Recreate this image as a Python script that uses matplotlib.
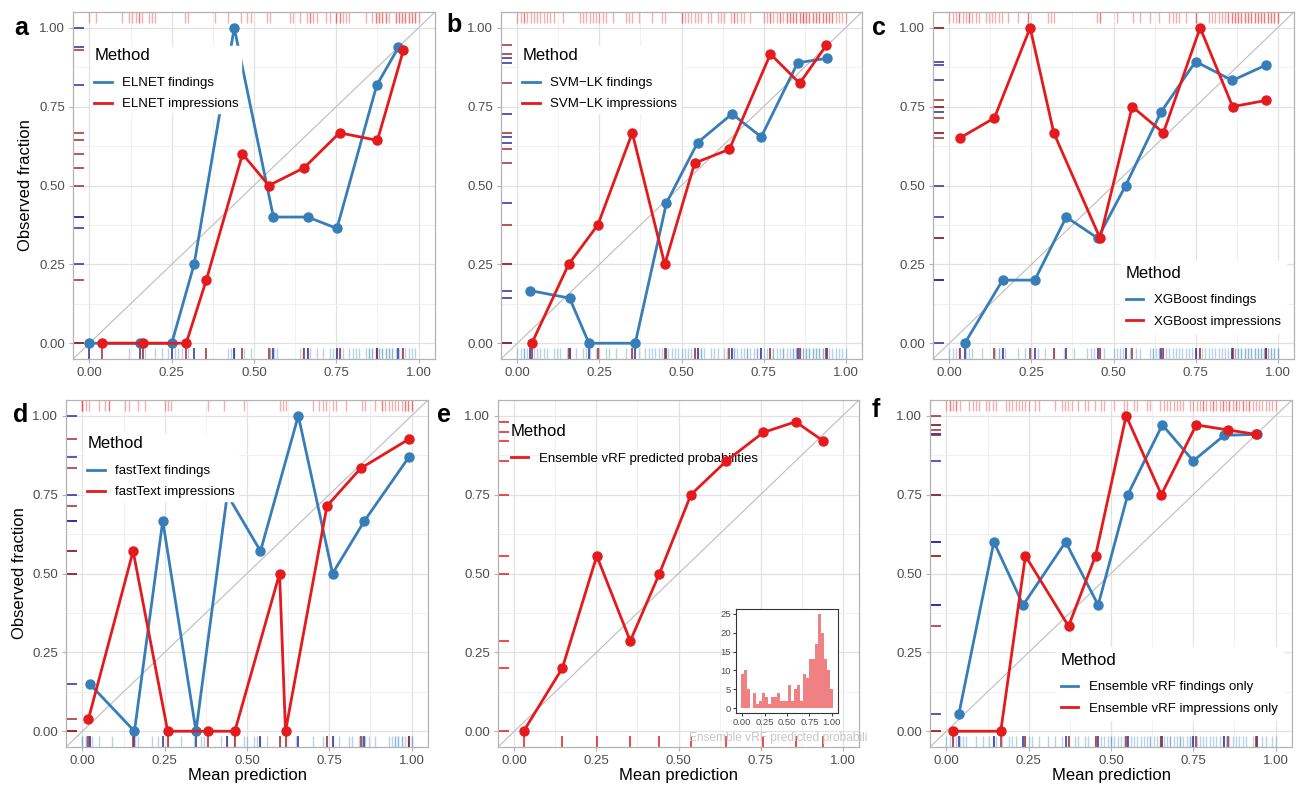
import numpy as np
import matplotlib
matplotlib.use('Agg')
import matplotlib.pyplot as plt
from matplotlib.lines import Line2D

plt.rcParams['font.family'] = ['Liberation Sans', 'DejaVu Sans']

BLUE = '#377EB8'
RED = '#E41A1C'
NAVY = '#2b2b9e'
DRED = '#9e2b2b'

# a: ELNET
elnet_find_x = [0.00, 0.154, 0.25, 0.318, 0.44, 0.559, 0.663, 0.752, 0.873, 0.939]
elnet_find_y = [0.00, 0.00, 0.00, 0.25, 1.00, 0.40, 0.40, 0.364, 0.818, 0.938]
elnet_imp_x = [0.038, 0.162, 0.294, 0.355, 0.465, 0.545, 0.652, 0.76, 0.875, 0.954]
elnet_imp_y = [0.00, 0.00, 0.00, 0.20, 0.60, 0.50, 0.556, 0.667, 0.643, 0.929]
elnet_find_rug = [0.12, 0.16, 0.17, 0.20, 0.22, 0.24, 0.26, 0.27, 0.28, 0.30, 0.42, 0.43, 0.44,
                  0.44, 0.47, 0.49, 0.55, 0.55, 0.56, 0.57, 0.64, 0.65, 0.65, 0.66, 0.67, 0.69,
                  0.71, 0.73, 0.74, 0.75, 0.76, 0.77, 0.79, 0.80, 0.81, 0.82, 0.84, 0.85, 0.85,
                  0.86, 0.86, 0.87, 0.87, 0.88, 0.88, 0.89, 0.89, 0.90, 0.90, 0.91, 0.91, 0.92,
                  0.92, 0.93, 0.94, 0.95, 0.96, 0.97, 0.98, 0.99]
elnet_imp_rug = [0.00, 0.02, 0.10, 0.12, 0.13, 0.14, 0.15, 0.15, 0.16, 0.18, 0.19, 0.20, 0.29,
                 0.30, 0.38, 0.42, 0.46, 0.48, 0.49, 0.54, 0.55, 0.61, 0.62, 0.64, 0.66, 0.67,
                 0.67, 0.68, 0.69, 0.72, 0.73, 0.75, 0.75, 0.76, 0.76, 0.77, 0.78, 0.79, 0.84,
                 0.86, 0.87, 0.87, 0.88, 0.88, 0.89, 0.89, 0.90, 0.90, 0.91, 0.93, 0.93, 0.94,
                 0.94, 0.95, 0.95, 0.96, 0.96, 0.97, 0.97, 0.98, 0.98, 0.99, 0.99, 1.00]

# b: SVM-LK
svm_find_x = [0.038, 0.159, 0.218, 0.359, 0.454, 0.549, 0.654, 0.743, 0.854, 0.942]
svm_find_y = [0.167, 0.143, 0.0, 0.0, 0.444, 0.636, 0.727, 0.654, 0.889, 0.903]
svm_imp_x = [0.044, 0.156, 0.245, 0.35, 0.449, 0.54, 0.646, 0.771, 0.86, 0.941]
svm_imp_y = [0.0, 0.25, 0.375, 0.667, 0.25, 0.571, 0.615, 0.917, 0.824, 0.944]
svm_find_rug = [0.00, 0.01, 0.02, 0.02, 0.03, 0.04, 0.05, 0.06, 0.07, 0.08, 0.09, 0.11, 0.12,
                0.13, 0.15, 0.16, 0.18, 0.20, 0.21, 0.22, 0.24, 0.25, 0.27, 0.28, 0.30, 0.33,
                0.35, 0.37, 0.39, 0.40, 0.41, 0.42, 0.43, 0.44, 0.46, 0.47, 0.48, 0.49, 0.50,
                0.51, 0.52, 0.53, 0.54, 0.55, 0.56, 0.56, 0.57, 0.59, 0.60, 0.61, 0.63, 0.64,
                0.65, 0.66, 0.66, 0.67, 0.68, 0.69, 0.70, 0.70, 0.71, 0.72, 0.73, 0.73, 0.74,
                0.75, 0.76, 0.77, 0.78, 0.78, 0.79, 0.80, 0.81, 0.81, 0.82, 0.83, 0.84, 0.84,
                0.85, 0.85, 0.86, 0.86, 0.87, 0.87, 0.88, 0.88, 0.89, 0.89, 0.90, 0.90, 0.91,
                0.91, 0.92, 0.92, 0.93, 0.93, 0.94, 0.95, 0.96, 0.97, 0.98, 0.99, 1.00]
svm_imp_rug = [0.00, 0.01, 0.02, 0.02, 0.03, 0.04, 0.05, 0.06, 0.07, 0.08, 0.09, 0.10, 0.11,
               0.14, 0.19, 0.20, 0.21, 0.22, 0.23, 0.24, 0.25, 0.26, 0.27, 0.29, 0.33, 0.34,
               0.35, 0.37, 0.41, 0.44, 0.45, 0.50, 0.50, 0.51, 0.52, 0.53, 0.54, 0.55, 0.56,
               0.58, 0.59, 0.61, 0.62, 0.63, 0.65, 0.66, 0.66, 0.67, 0.68, 0.69, 0.71, 0.75,
               0.76, 0.77, 0.77, 0.78, 0.79, 0.80, 0.80, 0.81, 0.82, 0.82, 0.83, 0.83, 0.84,
               0.84, 0.85, 0.85, 0.86, 0.86, 0.87, 0.87, 0.87, 0.88, 0.88, 0.89, 0.89, 0.90,
               0.90, 0.91, 0.91, 0.92, 0.92, 0.93, 0.93, 0.94, 0.94, 0.95, 0.95, 0.96, 0.96,
               0.97, 0.98, 0.99, 1.00]

# c: XGBoost
xgb_find_x = [0.047, 0.162, 0.26, 0.356, 0.452, 0.537, 0.645, 0.75, 0.862, 0.965]
xgb_find_y = [0.0, 0.2, 0.2, 0.4, 0.333, 0.5, 0.733, 0.893, 0.833, 0.882]
xgb_imp_x = [0.031, 0.137, 0.246, 0.318, 0.459, 0.557, 0.652, 0.764, 0.863, 0.966]
xgb_imp_y = [0.65, 0.714, 1.0, 0.667, 0.333, 0.75, 0.667, 1.0, 0.75, 0.77]
xgb_find_rug = [0.00, 0.01, 0.02, 0.03, 0.03, 0.05, 0.06, 0.07, 0.10, 0.14, 0.15, 0.15, 0.16,
                0.17, 0.21, 0.23, 0.25, 0.27, 0.29, 0.32, 0.35, 0.38, 0.42, 0.43, 0.44, 0.46,
                0.47, 0.50, 0.51, 0.52, 0.53, 0.55, 0.57, 0.58, 0.61, 0.62, 0.62, 0.63, 0.64,
                0.64, 0.65, 0.66, 0.67, 0.68, 0.69, 0.70, 0.71, 0.72, 0.73, 0.74, 0.75, 0.76,
                0.77, 0.78, 0.79, 0.80, 0.81, 0.82, 0.83, 0.84, 0.85, 0.86, 0.86, 0.87, 0.87,
                0.88, 0.88, 0.89, 0.89, 0.90, 0.90, 0.91, 0.91, 0.92, 0.92, 0.93, 0.93, 0.94,
                0.94, 0.95, 0.95, 0.96, 0.96, 0.97, 0.97, 0.98, 0.98, 0.99, 0.99, 1.00, 1.00]
xgb_imp_rug = [0.00, 0.01, 0.02, 0.03, 0.03, 0.04, 0.05, 0.06, 0.06, 0.07, 0.08, 0.09, 0.11,
               0.12, 0.13, 0.14, 0.15, 0.16, 0.18, 0.21, 0.24, 0.24, 0.30, 0.31, 0.32, 0.45,
               0.46, 0.46, 0.51, 0.56, 0.58, 0.61, 0.64, 0.67, 0.68, 0.69, 0.70, 0.72, 0.75,
               0.75, 0.79, 0.80, 0.81, 0.82, 0.83, 0.84, 0.85, 0.85, 0.86, 0.86, 0.87, 0.87,
               0.88, 0.88, 0.89, 0.89, 0.90, 0.90, 0.91, 0.91, 0.92, 0.92, 0.93, 0.93, 0.94,
               0.94, 0.95, 0.95, 0.96, 0.96, 0.97, 0.97, 0.98, 0.98, 0.99, 0.99, 1.00, 1.00]

# d: fastText
ft_find_x = [0.022, 0.158, 0.244, 0.345, 0.44, 0.541, 0.656, 0.76, 0.857, 0.992]
ft_find_y = [0.15, 0.0, 0.667, 0.0, 0.75, 0.571, 1.0, 0.5, 0.667, 0.869]
ft_imp_x = [0.018, 0.154, 0.259, 0.383, 0.463, 0.599, 0.617, 0.743, 0.845, 0.992]
ft_imp_y = [0.038, 0.571, 0.0, 0.0, 0.0, 0.5, 0.0, 0.714, 0.833, 0.926]
ft_find_rug = [0.00, 0.00, 0.01, 0.01, 0.02, 0.02, 0.03, 0.05, 0.09, 0.16, 0.17, 0.21, 0.23,
               0.26, 0.30, 0.34, 0.36, 0.37, 0.42, 0.44, 0.46, 0.49, 0.50, 0.52, 0.53, 0.54,
               0.56, 0.60, 0.62, 0.65, 0.70, 0.73, 0.74, 0.76, 0.78, 0.81, 0.82, 0.84, 0.85,
               0.85, 0.86, 0.87, 0.89, 0.93, 0.94, 0.95, 0.95, 0.96, 0.96, 0.97, 0.97, 0.98,
               0.99, 0.99, 1.00, 1.00]
ft_imp_rug = [0.00, 0.00, 0.00, 0.01, 0.02, 0.05, 0.07, 0.08, 0.08, 0.13, 0.14, 0.17, 0.19,
              0.25, 0.26, 0.27, 0.38, 0.43, 0.49, 0.60, 0.61, 0.62, 0.70, 0.72, 0.73, 0.74,
              0.76, 0.77, 0.80, 0.85, 0.86, 0.89, 0.91, 0.91, 0.92, 0.93, 0.94, 0.95, 0.96,
              0.97, 0.98, 0.98, 0.99, 0.99, 1.00, 1.00]

# e: Ensemble vRF
evrf_x = [0.028, 0.146, 0.251, 0.353, 0.442, 0.538, 0.646, 0.758, 0.857, 0.94]
evrf_y = [0.0, 0.2, 0.556, 0.286, 0.5, 0.75, 0.857, 0.947, 0.981, 0.921]
evrf_hist = [9, 10, 5, 0, 4, 1, 2, 4, 3, 1, 3, 3, 4, 2, 2, 2, 6, 2, 5, 6, 2, 9, 8, 13, 13,
             17, 25, 20, 13, 10, 5]
bin_width = 1 / 30

# f: Ensemble vRF findings / impressions only
ens_find_x = [0.038, 0.144, 0.233, 0.362, 0.461, 0.551, 0.656, 0.75, 0.844, 0.943]
ens_find_y = [0.056, 0.6, 0.4, 0.6, 0.4, 0.75, 0.971, 0.857, 0.938, 0.941]
ens_imp_x = [0.02, 0.165, 0.24, 0.371, 0.453, 0.546, 0.653, 0.759, 0.856, 0.941]
ens_imp_y = [0.0, 0.0, 0.556, 0.333, 0.556, 1.0, 0.75, 0.971, 0.955, 0.941]
ens_find_rug = [0.00, 0.01, 0.02, 0.03, 0.04, 0.05, 0.06, 0.09, 0.11, 0.13, 0.14, 0.15, 0.17,
                0.19, 0.20, 0.21, 0.24, 0.25, 0.26, 0.28, 0.31, 0.33, 0.35, 0.37, 0.39, 0.40,
                0.42, 0.43, 0.45, 0.47, 0.48, 0.49, 0.50, 0.50, 0.51, 0.52, 0.53, 0.54, 0.55,
                0.56, 0.57, 0.58, 0.59, 0.60, 0.61, 0.62, 0.62, 0.63, 0.64, 0.65, 0.65, 0.66,
                0.67, 0.68, 0.68, 0.69, 0.70, 0.71, 0.71, 0.72, 0.73, 0.74, 0.74, 0.75, 0.76,
                0.77, 0.78, 0.79, 0.80, 0.81, 0.82, 0.83, 0.84, 0.85, 0.86, 0.87, 0.88, 0.89,
                0.90, 0.91, 0.93, 0.94, 0.96, 0.97, 0.99, 1.00]
ens_imp_rug = [0.00, 0.01, 0.01, 0.02, 0.03, 0.03, 0.04, 0.07, 0.08, 0.09, 0.10, 0.12, 0.13,
               0.14, 0.15, 0.18, 0.19, 0.20, 0.21, 0.22, 0.23, 0.24, 0.25, 0.27, 0.28, 0.33,
               0.35, 0.36, 0.37, 0.38, 0.40, 0.42, 0.43, 0.45, 0.47, 0.48, 0.51, 0.54, 0.55,
               0.57, 0.58, 0.61, 0.62, 0.65, 0.66, 0.67, 0.68, 0.69, 0.70, 0.71, 0.72, 0.74,
               0.75, 0.76, 0.77, 0.78, 0.78, 0.79, 0.80, 0.81, 0.81, 0.82, 0.83, 0.84, 0.84,
               0.85, 0.86, 0.86, 0.87, 0.88, 0.88, 0.89, 0.90, 0.90, 0.91, 0.92, 0.92, 0.93,
               0.94, 0.95, 0.96, 0.97, 0.98, 0.99, 1.00]

W, H = 1304, 787
fig = plt.figure(figsize=(W / 100, H / 100), dpi=100)


def box(l, r, t, b):
    return [l / W, 1 - b / H, (r - l) / W, (b - t) / H]


def setup(ax):
    ax.set_xlim(-0.05, 1.05)
    ax.set_ylim(-0.05, 1.05)
    major = [0, 0.25, 0.5, 0.75, 1]
    labs = ['0.00', '0.25', '0.50', '0.75', '1.00']
    ax.set_xticks(major)
    ax.set_xticklabels(labs)
    ax.set_yticks(major)
    ax.set_yticklabels(labs)
    ax.set_xticks([0.125, 0.375, 0.625, 0.875], minor=True)
    ax.set_yticks([0.125, 0.375, 0.625, 0.875], minor=True)
    ax.grid(which='major', color='#e2e2e2', lw=0.9)
    ax.grid(which='minor', color='#efefef', lw=0.6)
    ax.set_axisbelow(True)
    ax.tick_params(which='major', length=2.75, width=0.8, color='#b3b3b3',
                   labelcolor='#4d4d4d', labelsize=9.5, pad=3)
    ax.tick_params(which='minor', length=0)
    for s in ax.spines.values():
        s.set_color('#b3b3b3')
        s.set_linewidth(0.9)
    ax.plot([-0.05, 1.05], [-0.05, 1.05], color='#bdbdbd', lw=0.8, zorder=1.5)


def rug(ax, vals, side, color, alpha=1.0, lw=1.1):
    if side == 'bottom':
        ax.vlines(vals, 0, 0.033, transform=ax.get_xaxis_transform(), colors=color,
                  alpha=alpha, lw=lw, zorder=2.2)
    elif side == 'top':
        ax.vlines(vals, 0.967, 1.0, transform=ax.get_xaxis_transform(), colors=color,
                  alpha=alpha, lw=lw, zorder=2.2)
    else:
        ax.hlines(vals, 0, 0.03, transform=ax.get_yaxis_transform(), colors=color,
                  alpha=alpha, lw=lw, zorder=2.2)


def legend(ax, labels, colors, loc, anchor, frame=True, pad=0.4):
    handles = [Line2D([], [], color=c, lw=2) for c in colors]
    leg = ax.legend(handles, labels, title='Method', loc=loc, bbox_to_anchor=anchor,
                    borderaxespad=0, frameon=frame, fancybox=False, framealpha=1,
                    facecolor='white', edgecolor='white', fontsize=9.5, title_fontsize=12,
                    handlelength=1.3, handletextpad=0.8, labelspacing=0.68,
                    borderpad=pad, alignment='left')
    # extra room between title and entries, like ggplot
    leg._legend_box.sep = 9.7
    return leg


def two_series(ax, fx, fy, ix, iy, frug, irug, labels, loc, anchor, pad=0.4):
    setup(ax)
    rug(ax, irug, 'top', RED, alpha=0.35, lw=1.0)
    rug(ax, frug, 'bottom', BLUE, alpha=0.35, lw=1.0)
    rug(ax, fx, 'bottom', NAVY)
    rug(ax, ix, 'bottom', DRED)
    rug(ax, fy, 'left', NAVY)
    rug(ax, iy, 'left', DRED)
    ax.plot(fx, fy, '-o', color=BLUE, lw=2, ms=6.5, zorder=3)
    ax.plot(ix, iy, '-o', color=RED, lw=2, ms=6.5, zorder=3.1)
    legend(ax, labels, [BLUE, RED], loc, anchor, pad=pad)


ax_a = fig.add_axes(box(73, 435, 12, 359))
two_series(ax_a, elnet_find_x, elnet_find_y, elnet_imp_x, elnet_imp_y, elnet_find_rug,
           elnet_imp_rug, ['ELNET findings', 'ELNET impressions'], 'upper left',
           (0.052, 0.9025), pad=0.2)

ax_b = fig.add_axes(box(501, 862, 12, 359))
two_series(ax_b, svm_find_x, svm_find_y, svm_imp_x, svm_imp_y, svm_find_rug, svm_imp_rug,
           ['SVM\u2212LK findings', 'SVM\u2212LK impressions'], 'upper left',
           (0.052, 0.9025), pad=0.2)

ax_c = fig.add_axes(box(933, 1294, 12, 359))
two_series(ax_c, xgb_find_x, xgb_find_y, xgb_imp_x, xgb_imp_y, xgb_find_rug, xgb_imp_rug,
           ['XGBoost findings', 'XGBoost impressions'], 'lower right', (0.978, 0.075))

ax_d = fig.add_axes(box(66, 428, 400, 747))
two_series(ax_d, ft_find_x, ft_find_y, ft_imp_x, ft_imp_y, ft_find_rug, ft_imp_rug,
           ['fastText findings', 'fastText impressions'], 'upper left',
           (0.052, 0.9025), pad=0.2)

ax_f = fig.add_axes(box(930, 1292, 400, 747))
two_series(ax_f, ens_find_x, ens_find_y, ens_imp_x, ens_imp_y, ens_find_rug, ens_imp_rug,
           ['Ensemble vRF findings only', 'Ensemble vRF impressions only'], 'lower right',
           (0.975, 0.078))

# e: single series, legend under the line
ax_e = fig.add_axes(box(498, 859, 400, 747))
setup(ax_e)
rug(ax_e, evrf_x, 'bottom', RED)
rug(ax_e, evrf_y, 'left', RED)
ax_e.plot(evrf_x, evrf_y, '-o', color=RED, lw=2, ms=6.5, zorder=3)
leg_e = legend(ax_e, ['Ensemble vRF predicted probabilities'], [RED], 'upper left',
               (0.021, 0.9455), frame=False)
leg_e.set_zorder(2.5)

# inset histogram
ax_in = fig.add_axes(box(736, 838, 609, 713))
centers = np.arange(len(evrf_hist)) * bin_width
ax_in.bar(centers, evrf_hist, width=bin_width, color=RED, alpha=0.55, lw=0)
ax_in.set_xlim(-0.068, 1.068)
ax_in.set_ylim(-1.3, 26.3)
ax_in.set_xticks([0, 0.25, 0.5, 0.75, 1])
ax_in.set_xticklabels(['0.00', '0.25', '0.50', '0.75', '1.00'])
ax_in.set_yticks([0, 5, 10, 15, 20, 25])
ax_in.tick_params(length=2, width=0.7, color='#333333', labelcolor='#4d4d4d',
                  labelsize=6.8, pad=1.5)
for s in ax_in.spines.values():
    s.set_color('#333333')
    s.set_linewidth(0.8)
fig.text(689 / W, 1 - 738 / H, 'Ensemble vRF predicted probabili', color='#c6c6c6',
         fontsize=8.6, va='center', ha='left')

# axis titles
for x, y in ((26, 185), (20, 573)):
    fig.text(x / W, 1 - y / H, 'Observed fraction', rotation=90, ha='center', va='center',
             fontsize=12)
for ax in (ax_d, ax_e, ax_f):
    ax.set_xlabel('Mean prediction', fontsize=12, labelpad=1)

# panel letters
letters = ['a', 'b', 'c', 'd', 'e', 'f']
letter_pos = [(14, 35), (446, 32), (872, 35), (13, 422), (437, 422), (872, 417)]
for lab, (x, y) in zip(letters, letter_pos):
    fig.text(x / W, 1 - y / H, lab, fontsize=18, fontweight='bold', ha='left', va='baseline')

fig.savefig('out.png', dpi=100)
